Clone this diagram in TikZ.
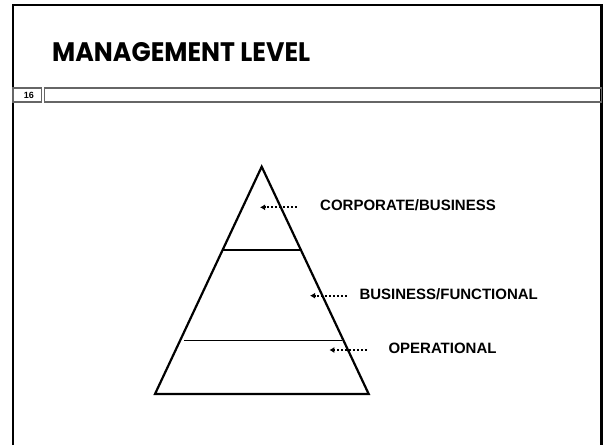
\documentclass[tikz,border=0pt]{standalone}
\usepackage{fontspec}
\setmainfont{Liberation Sans}
\newfontfamily\titlefont{Poppins}
\usetikzlibrary{arrows.meta}
\begin{document}
\begin{tikzpicture}[
	x=1pt, y=-1pt,
	frameline/.style={line width=2.4pt, black},
	barline/.style={line width=1.2pt, draw=black!60},
	pyramid/.style={line width=2.2pt, line join=miter},
	levelline/.style={line width=1.1pt},
	levelnode/.style={anchor=west, inner sep=0pt, font=\bfseries\fontsize{15}{17}\selectfont},
	levelarrow/.style={line width=2pt, dash pattern=on 2pt off 2pt, -{Latex[length=5pt, width=6pt]}},
]
\useasboundingbox (0,0) rectangle (603,445);
\draw[frameline] (13,445) -- (13,5) -- (601.5,5) -- (601.5,445);
\node[anchor=base west, inner sep=0pt] (title) at (52,61.7) {\resizebox{258pt}{19pt}{\titlefont\bfseries MANAGEMENT LEVEL}};

\draw[barline] (13,88) rectangle (41.7,102);
\draw[barline] (44.3,88) rectangle (601.5,102);
\node[font=\bfseries\fontsize{9}{10}\selectfont] (page) at (29,95.3) {16};

\draw[pyramid] (261.7,166.7) -- (155,394) -- (368.7,394) -- cycle;
\draw[levelline] (223,250) -- (300.5,250);
\draw[levelline] (184,340.3) -- (342,340.3);

\node[levelnode] (corp) at (320,205) {CORPORATE/BUSINESS};
\node[levelnode] (func) at (359.3,294.5) {BUSINESS/FUNCTIONAL};
\node[levelnode] (oper) at (388.3,348.5) {OPERATIONAL};

\coordinate (corptail) at (296.7,207.3);
\coordinate (corptip) at (260,207.3);
\coordinate (functail) at (346.7,295.7);
\coordinate (functip) at (310,295.7);
\coordinate (opertail) at (366.7,350);
\coordinate (opertip) at (329.3,350);

\draw[levelarrow] (corptail) -- (corptip);
\draw[levelarrow] (functail) -- (functip);
\draw[levelarrow] (opertail) -- (opertip);
\end{tikzpicture}
\end{document}
